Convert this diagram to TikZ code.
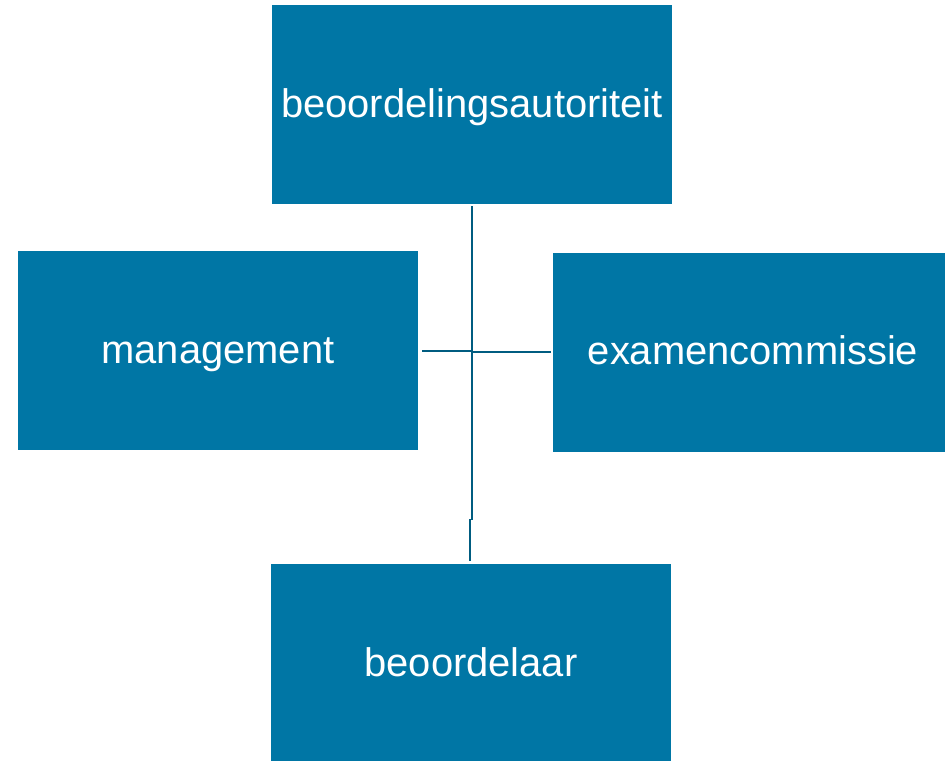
\documentclass[tikz,border=0pt]{standalone}
\usepackage{fontspec}
\setmainfont{Liberation Sans}
\definecolor{boxblue}{RGB}{0,118,165}
\definecolor{linedark}{RGB}{0,92,128}
\begin{document}
\begin{tikzpicture}[x=0.5pt,y=-0.5pt,
  orgbox/.style={rectangle,fill=boxblue,draw=none,text=white,
    minimum width=200pt,minimum height=99.5pt,inner sep=0pt,
    text height=14.5pt,text depth=2pt,
    font=\fontsize{19.95pt}{23pt}\selectfont},
  conn/.style={draw=linedark,line width=1.2pt}]
\useasboundingbox (0,0) rectangle (945,760);
\node[orgbox] (top)  at (472,104.5) {beoordelingsautoriteit};
\node[orgbox] (mgmt) at (218,350.5) {management};
\node[orgbox] (exam) at (753,352)   {examencommissie};
\node[orgbox] (beo)  at (471,663.5) {beoordelaar};
\coordinate (t1) at (472,206);
\coordinate (k1) at (472,520);
\coordinate (k2) at (470,519);
\coordinate (b1) at (470,561);
\coordinate (l1) at (422,351);
\coordinate (j1) at (472,351);
\coordinate (j2) at (472,352);
\coordinate (r1) at (551,352);
\draw[conn] (t1) -- (k1);
\draw[conn] (k2) -- (b1);
\draw[conn] (l1) -- (j1);
\draw[conn] (j2) -- (r1);
\end{tikzpicture}
\end{document}
